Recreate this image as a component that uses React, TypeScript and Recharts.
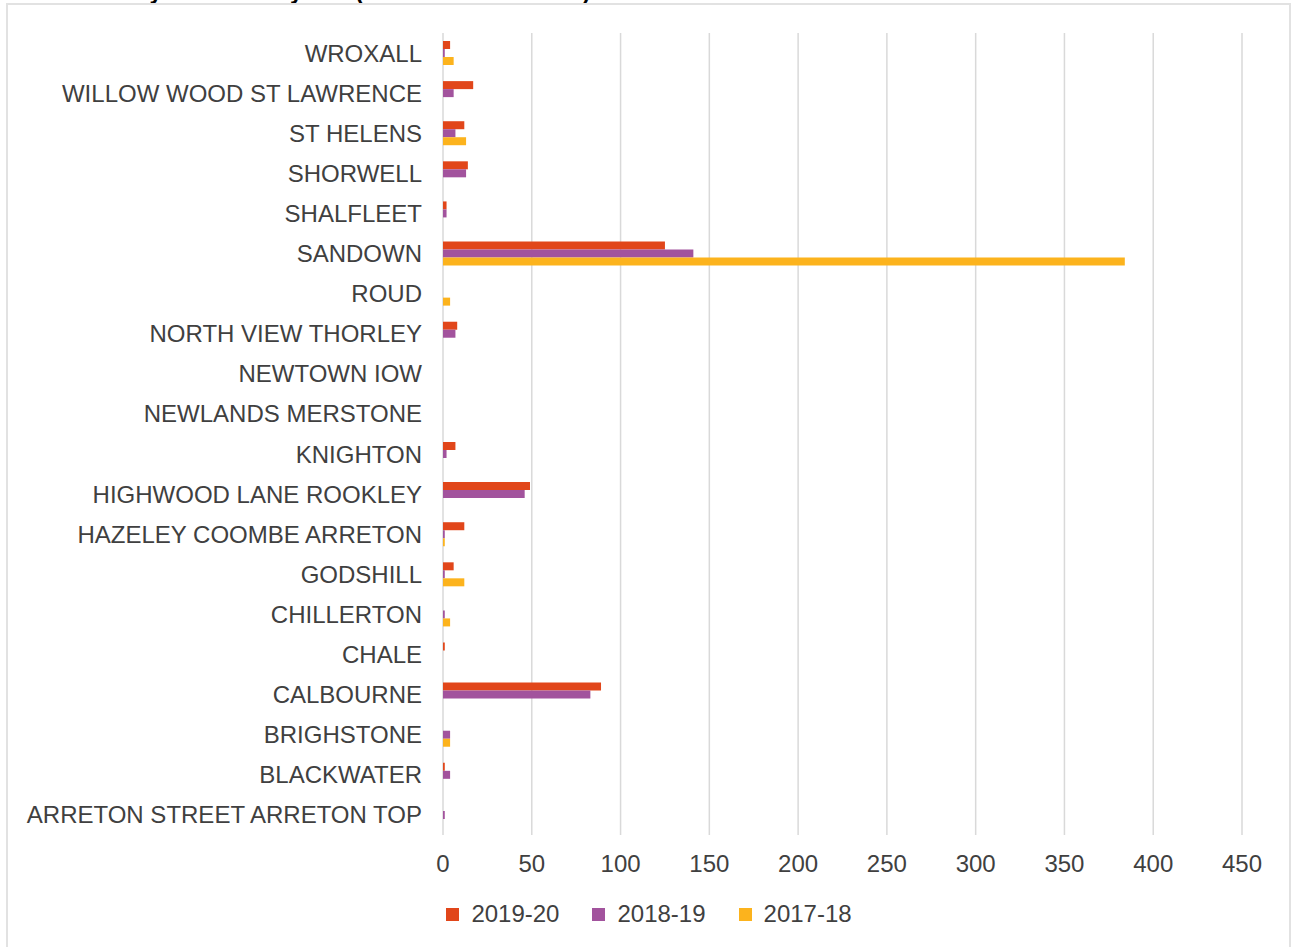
import React from 'react';
import { BarChart, Bar, XAxis, YAxis, CartesianGrid, Legend } from 'recharts';

// categories, top to bottom as drawn
const places = [
    'WROXALL',
    'WILLOW WOOD ST LAWRENCE',
    'ST HELENS',
    'SHORWELL',
    'SHALFLEET',
    'SANDOWN',
    'ROUD',
    'NORTH VIEW THORLEY',
    'NEWTOWN IOW',
    'NEWLANDS MERSTONE',
    'KNIGHTON',
    'HIGHWOOD LANE ROOKLEY',
    'HAZELEY COOMBE ARRETON',
    'GODSHILL',
    'CHILLERTON',
    'CHALE',
    'CALBOURNE',
    'BRIGHSTONE',
    'BLACKWATER',
    'ARRETON STREET ARRETON TOP',
];

const incidents2019 = [4, 17, 12, 14, 2, 125, 0, 8, 0, 0, 7, 49, 12, 6, 0, 1, 89, 0, 1, 0];
const incidents2018 = [1, 6, 7, 13, 2, 141, 0, 7, 0, 0, 2, 46, 1, 1, 1, 0, 83, 4, 4, 1];
const incidents2017 = [6, 0, 13, 0, 0, 384, 4, 0, 0, 0, 0, 0, 1, 12, 4, 0, 0, 4, 0, 0];

const xTicks = [0, 50, 100, 150, 200, 250, 300, 350, 400, 450];

const SERIES = [
    { key: 'y2019', name: '2019-20', color: '#E1461A' },
    { key: 'y2018', name: '2018-19', color: '#A2539D' },
    { key: 'y2017', name: '2017-18', color: '#FCB31D' },
];

const rows = places.map((name, i) => ({
    name,
    y2019: incidents2019[i],
    y2018: incidents2018[i],
    y2017: incidents2017[i],
}));

const FONT = '"Liberation Sans", Arial, sans-serif';
const TEXT = '#404040';

const LegendRow = () => (
    <div style={{ display: 'flex', justifyContent: 'center', alignItems: 'center', height: 24, fontFamily: FONT, fontSize: 24, lineHeight: '24px', color: TEXT }}>
        {SERIES.map((s, i) => (
            <div key={s.key} style={{ display: 'flex', alignItems: 'center', marginLeft: i === 0 ? 0 : 33 }}>
                <span style={{ display: 'inline-block', width: 13, height: 13, background: s.color, marginRight: 12 }} />
                <span>{s.name}</span>
            </div>
        ))}
    </div>
);

export default function App() {
    return (
        <div style={{ position: 'fixed', left: 0, top: 0, width: 1292, height: 947, overflow: 'hidden', background: '#fff' }}>
            {/* title is cut off at the top of the picture */}
            <div style={{ position: 'absolute', left: 0, top: -20.5, fontFamily: FONT, fontWeight: 'bold', fontSize: 23, lineHeight: '23px', color: '#000', whiteSpace: 'nowrap' }}>
                Chart 4: Safety incidents by site (number of incidents)
            </div>
            <div style={{ position: 'absolute', left: 6, top: 3, width: 1285, height: 980, border: '2px solid #e2e2e2', boxSizing: 'border-box' }} />
            <div style={{ position: 'absolute', left: 0, top: 0 }}>
                <BarChart
                    width={1292}
                    height={947}
                    data={rows}
                    layout="vertical"
                    margin={{ top: 33, right: 50, bottom: 72, left: 0 }}
                    barCategoryGap="20%"
                    barGap={0}
                >
                    <CartesianGrid horizontal={false} stroke="#d9d9d9" strokeWidth={1.5} />
                    <XAxis
                        type="number"
                        domain={[0, 450]}
                        ticks={xTicks}
                        axisLine={false}
                        tickLine={false}
                        tickSize={0}
                        tickMargin={20}
                        height={40}
                        tick={{ fill: TEXT, fontSize: 24, fontFamily: FONT }}
                    />
                    <YAxis
                        type="category"
                        dataKey="name"
                        width={443}
                        interval={0}
                        axisLine={false}
                        tickLine={false}
                        tickSize={0}
                        tickMargin={21}
                        tick={{ fill: TEXT, fontSize: 24, fontFamily: FONT }}
                    />
                    <Legend
                        verticalAlign="middle"
                        align="center"
                        wrapperStyle={{ top: 902, left: 7, width: 1284 }}
                        content={() => <LegendRow />}
                    />
                    {SERIES.map((s) => (
                        <Bar key={s.key} dataKey={s.key} name={s.name} fill={s.color} isAnimationActive={false} />
                    ))}
                </BarChart>
            </div>
        </div>
    );
}
